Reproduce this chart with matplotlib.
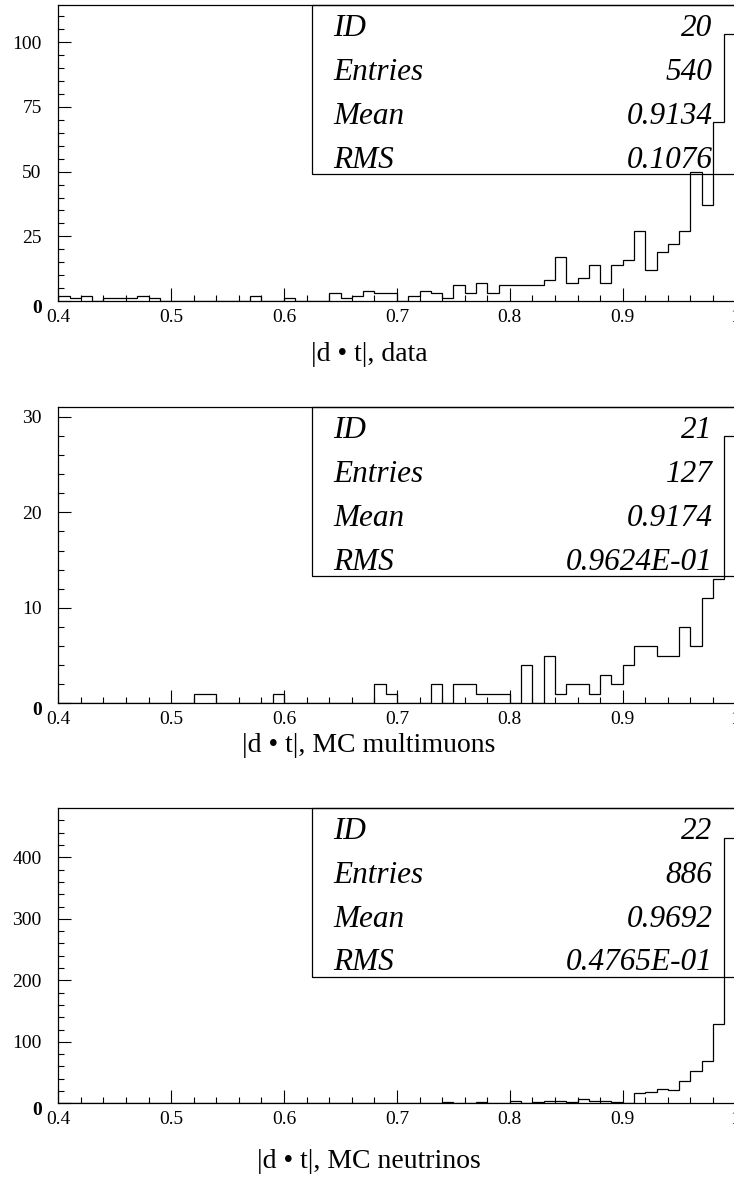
import numpy as np
import matplotlib
matplotlib.use("Agg")
import matplotlib.pyplot as plt
from matplotlib.patches import Rectangle
from matplotlib.ticker import MultipleLocator
import matplotlib.transforms as mtransforms

# Histogram binning: 60 bins of width 0.01 between 0.4 and 1.0
bin_edges = np.round(np.linspace(0.4, 1.0, 61), 2)

# Bin contents, bins 0.40 ... 0.99
counts_data = [
    2, 1, 2, 0, 1, 1, 1, 2, 1, 0,
    0, 0, 0, 0, 0, 0, 0, 2, 0, 0,
    1, 0, 0, 0, 3, 1, 2, 4, 3, 3,
    0, 2, 4, 3, 1, 6, 3, 7, 3, 6,
    6, 6, 6, 8, 17, 7, 9, 14, 7, 14,
    16, 27, 12, 19, 22, 27, 50, 37, 69, 103,
]
counts_mc_muons = [
    0, 0, 0, 0, 0, 0, 0, 0, 0, 0,
    0, 0, 1, 1, 0, 0, 0, 0, 0, 1,
    0, 0, 0, 0, 0, 0, 0, 0, 2, 1,
    0, 0, 0, 2, 0, 2, 2, 1, 1, 1,
    0, 4, 0, 5, 1, 2, 2, 1, 3, 2,
    4, 6, 6, 5, 5, 8, 6, 11, 13, 28,
]
counts_mc_nu = [
    0, 0, 0, 0, 0, 0, 0, 0, 0, 0,
    0, 0, 0, 0, 0, 0, 0, 0, 0, 0,
    0, 0, 0, 0, 0, 0, 0, 0, 0, 0,
    0, 0, 0, 0, 2, 1, 0, 2, 0, 0,
    4, 0, 2, 4, 4, 2, 7, 4, 3, 2,
    1, 16, 18, 24, 22, 37, 53, 69, 129, 431,
]

titles = ["|d • t|, data", "|d • t|, MC multimuons", "|d • t|, MC neutrinos"]
hist_ids = ["20", "21", "22"]
entries = ["540", "127", "886"]
means = ["0.9134", "0.9174", "0.9692"]
rms_values = ["0.1076", "0.9624E-01", "0.4765E-01"]
stat_names = ["ID", "Entries", "Mean", "RMS"]

y_max = [114.4, 31.06, 479.7]
y_major = [25, 10, 100]
y_minor = [5, 2, 20]

x_tick_vals = [0.4, 0.5, 0.6, 0.7, 0.8, 0.9, 1.0]
x_tick_labels = ["0.4", "0.5", "0.6", "0.7", "0.8", "0.9", "1"]

plt.rcParams["font.family"] = ["Liberation Serif", "DejaVu Serif"]

W, H = 734, 1185
fig = plt.figure(figsize=(W / 100, H / 100), dpi=100)

# pixel geometry of the three frames (left, right, top, bottom)
frame_left, frame_right = 58.3, 735.6
frames = [(5.0, 301.0), (406.7, 703.3), (808.3, 1103.3)]
title_base = [361, 752, 1168]

all_counts = [counts_data, counts_mc_muons, counts_mc_nu]

for i in range(3):
    top, bot = frames[i]
    ax = fig.add_axes([frame_left / W, 1 - bot / H,
                       (frame_right - frame_left) / W, (bot - top) / H])
    ax.stairs(all_counts[i], bin_edges, color="black", linewidth=0.9,
              baseline=0)
    ax.set_xlim(0.4, 1.0)
    ax.set_ylim(0, y_max[i])

    for s in ax.spines.values():
        s.set_linewidth(0.9)

    ax.set_xticks(x_tick_vals)
    ax.set_xticklabels(x_tick_labels)
    ax.xaxis.set_minor_locator(MultipleLocator(0.02))
    ax.yaxis.set_major_locator(MultipleLocator(y_major[i]))
    ax.yaxis.set_minor_locator(MultipleLocator(y_minor[i]))
    ax.tick_params(axis="both", which="both", direction="in",
                   top=False, right=False, width=0.8)
    ax.tick_params(axis="both", which="major", length=9.3, labelsize=14)
    ax.tick_params(axis="both", which="minor", length=4.6)
    ax.tick_params(axis="x", which="major", pad=5.5)
    ax.tick_params(axis="y", which="major", pad=12)

    # zero label of the y axis sits a little lower and heavier
    fig.canvas.draw()
    shift = mtransforms.ScaledTranslation(0, -4 / 72, fig.dpi_scale_trans)
    for lab in ax.get_yticklabels():
        if lab.get_text() == "0":
            lab.set_fontweight("bold")
            lab.set_transform(lab.get_transform() + shift)

    # statistics box
    box_left = (312 - frame_left) / (frame_right - frame_left)
    box_bottom = 0.428
    ax.add_patch(Rectangle((box_left, box_bottom), 1 - box_left,
                           1 - box_bottom, transform=ax.transAxes,
                           fill=False, edgecolor="black", linewidth=0.9,
                           clip_on=False))
    values = [hist_ids[i], entries[i], means[i], rms_values[i]]
    txt_left = (333 - frame_left) / (frame_right - frame_left)
    txt_right = (712.7 - frame_left) / (frame_right - frame_left)
    for r in range(4):
        yb = 0.895 - r * 0.148
        ax.text(txt_left, yb, stat_names[r], transform=ax.transAxes,
                ha="left", va="baseline", fontsize=22.5, style="italic")
        ax.text(txt_right, yb, values[r], transform=ax.transAxes,
                ha="right", va="baseline", fontsize=22.5, style="italic")

    fig.text(369 / W, 1 - title_base[i] / H, titles[i], ha="center",
             va="baseline", fontsize=20)

fig.savefig("out.png", dpi=100)
